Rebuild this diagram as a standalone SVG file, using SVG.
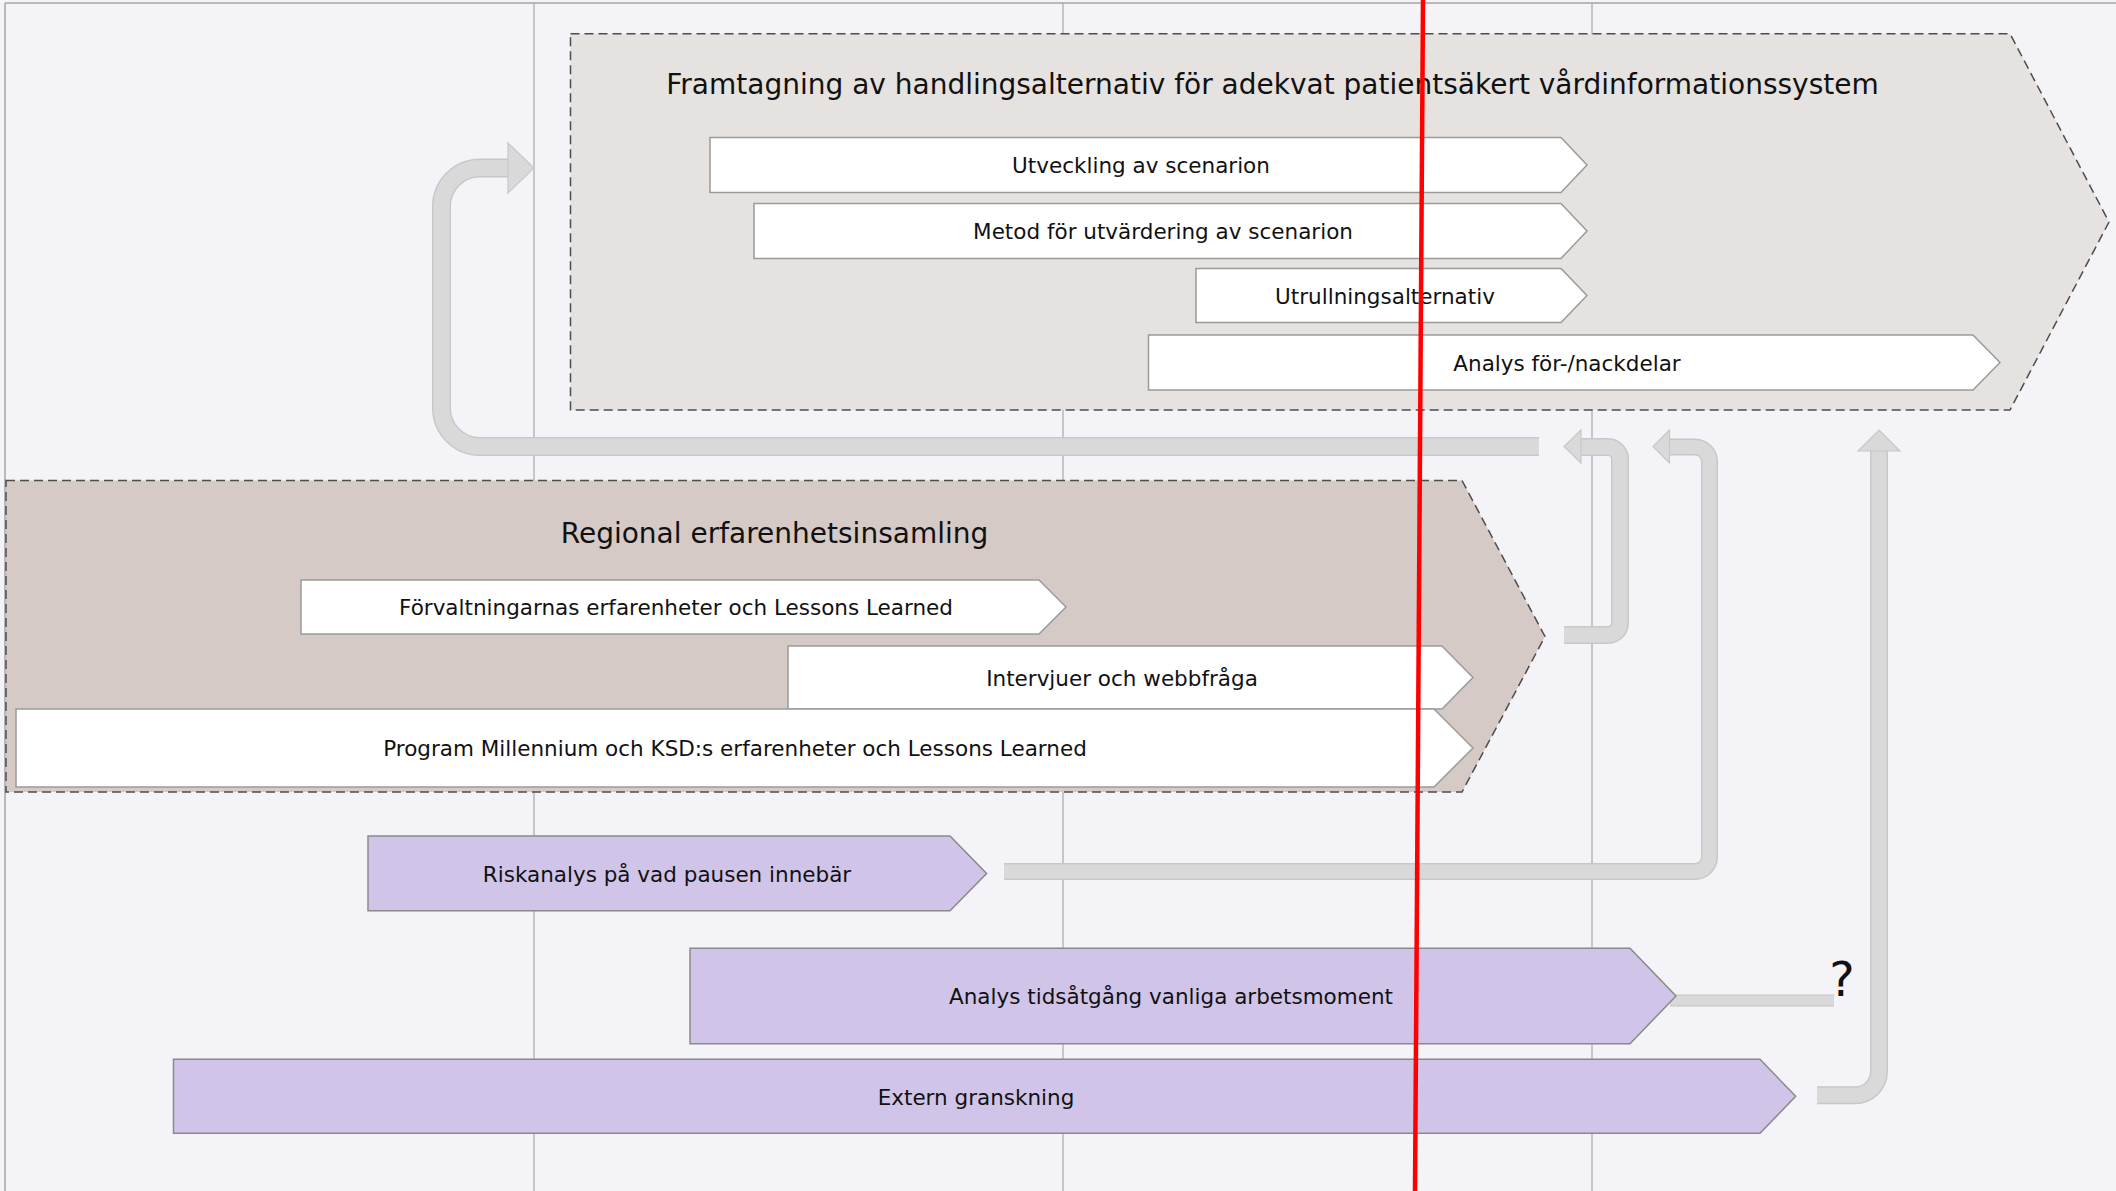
<svg xmlns="http://www.w3.org/2000/svg" width="2116" height="1191" viewBox="0 0 2116 1191">
<style>
.grid{stroke:#a8a8ac;stroke-width:1.2;fill:none}
.frame{fill:none;stroke:#b8b8bc;stroke-width:2}
.phase{stroke:#4d4d4d;stroke-width:1.5;stroke-dasharray:9 5}
.task{fill:#ffffff;stroke:#9a9a9a;stroke-width:1.5}
.ptask{fill:#d0c5e8;stroke:#8a8a8a;stroke-width:1.5}
.lbl{font-family:"DejaVu Sans",Verdana,sans-serif;font-size:21.5px;fill:#111;text-anchor:middle}
.ttl{font-family:"DejaVu Sans",Verdana,sans-serif;font-size:28px;fill:#111;text-anchor:middle}
.edge{fill:none;stroke:#c8c8c8;stroke-linejoin:round}
.core{fill:none;stroke:#d9d9d9;stroke-linejoin:round}
.head{fill:#d9d9d9;stroke:#c8c8c8;stroke-width:1.2}
</style>
<rect x="0" y="0" width="2116" height="1191" fill="#f3f3f8"/>
<g id="grid">
<line class="frame" x1="5" y1="3" x2="2116" y2="3"/>
<line class="frame" x1="5" y1="3" x2="5" y2="1191"/>
<line class="grid" x1="534" y1="3" x2="534" y2="1191"/>
<line class="grid" x1="1063" y1="3" x2="1063" y2="1191"/>
<line class="grid" x1="1592" y1="3" x2="1592" y2="1191"/>
</g>
<g id="connectors">
<g id="loop-back">
<path class="edge" stroke-width="19" d="M1539,446.5 H480 A38.5,38.5 0 0 1 441.5,408 V206.5 A38.5,38.5 0 0 1 480,168 H509"/>
<path class="core" stroke-width="16" d="M1539,446.5 H480 A38.5,38.5 0 0 1 441.5,408 V206.5 A38.5,38.5 0 0 1 480,168 H509"/>
<polygon class="head" points="508,143 534,168 508,193"/>
</g>
<g id="regional-to-top">
<path class="edge" stroke-width="18" d="M1564,635 H1608 A12,12 0 0 0 1620,623 V459 A12,12 0 0 0 1608,447 H1580"/>
<path class="core" stroke-width="15" d="M1564,635 H1608 A12,12 0 0 0 1620,623 V459 A12,12 0 0 0 1608,447 H1580"/>
<polygon class="head" points="1581,430 1564,446.5 1581,463"/>
</g>
<g id="risk-to-top">
<path class="edge" stroke-width="17" d="M1004,871.5 H1695 A14.5,14.5 0 0 0 1709.5,857 V461.5 A14.5,14.5 0 0 0 1695,447 H1668"/>
<path class="core" stroke-width="14" d="M1004,871.5 H1695 A14.5,14.5 0 0 0 1709.5,857 V461.5 A14.5,14.5 0 0 0 1695,447 H1668"/>
<polygon class="head" points="1669.5,430 1653,446.5 1669.5,463"/>
</g>
<g id="tid-to-question">
<path class="edge" stroke-width="12" d="M1670,1000.5 H1834"/>
<path class="core" stroke-width="9.5" d="M1670,1000.5 H1834"/>
</g>
<g id="extern-to-top">
<path class="edge" stroke-width="18" d="M1817,1095.3 H1855 A24,24 0 0 0 1879,1071.3 V450"/>
<path class="core" stroke-width="15" d="M1817,1095.3 H1855 A24,24 0 0 0 1879,1071.3 V450"/>
<polygon class="head" points="1858,451 1879,430 1900,451"/>
</g>
</g>
<g id="phase-top">
<polygon class="phase" fill="#e6e2df" points="570.5,33.7 2010,33.7 2109,222 2010,410 570.5,410"/>
<text class="ttl" x="1272.5" y="94">Framtagning av handlingsalternativ för adekvat patientsäkert vårdinformationssystem</text>
</g>
<g id="task-utveckling">
<polygon class="task" points="710,137.5 1561,137.5 1587,165 1561,192.5 710,192.5"/>
<text class="lbl" x="1141" y="173">Utveckling av scenarion</text>
</g>
<g id="task-metod">
<polygon class="task" points="754,203.5 1561,203.5 1587,231 1561,258.5 754,258.5"/>
<text class="lbl" x="1163" y="239">Metod för utvärdering av scenarion</text>
</g>
<g id="task-utrullning">
<polygon class="task" points="1196,268.5 1561,268.5 1587,295.5 1561,322.5 1196,322.5"/>
<text class="lbl" x="1385" y="303.5">Utrullningsalternativ</text>
</g>
<g id="task-analys-for-nack">
<polygon class="task" points="1148.5,335 1973,335 2000,362.5 1973,390 1148.5,390"/>
<text class="lbl" x="1567" y="370.5">Analys för-/nackdelar</text>
</g>
<g id="phase-regional">
<polygon class="phase" fill="#d5cac6" points="6,480.5 1462,480.5 1545,636.5 1462,792 6,792"/>
<text class="ttl" x="774.5" y="543">Regional erfarenhetsinsamling</text>
</g>
<g id="task-forvaltningarnas">
<polygon class="task" points="301,580 1039,580 1066,607 1039,634 301,634"/>
<text class="lbl" x="676" y="615">Förvaltningarnas erfarenheter och Lessons Learned</text>
</g>
<g id="task-intervjuer">
<polygon class="task" points="788,646 1442,646 1473,677.5 1442,709 788,709"/>
<text class="lbl" x="1122" y="685.5">Intervjuer och webbfråga</text>
</g>
<g id="task-program">
<polygon class="task" points="16,709 1434,709 1473,748 1434,787 16,787"/>
<text class="lbl" x="735" y="756">Program Millennium och KSD:s erfarenheter och Lessons Learned</text>
</g>
<g id="task-riskanalys">
<polygon class="ptask" points="368,836 950,836 986.6,873.5 950,910.7 368,910.7"/>
<text class="lbl" x="667" y="881.5">Riskanalys på vad pausen innebär</text>
</g>
<g id="task-tidsatgang">
<polygon class="ptask" points="690,948.3 1630,948.3 1676,996 1630,1043.7 690,1043.7"/>
<text class="lbl" x="1171" y="1004">Analys tidsåtgång vanliga arbetsmoment</text>
</g>
<g id="task-extern">
<polygon class="ptask" points="173.5,1059.3 1760,1059.3 1795.7,1096.3 1760,1133.3 173.5,1133.3"/>
<text class="lbl" x="976" y="1104.5">Extern granskning</text>
</g>
<g id="question">
<text x="1842" y="996" font-family="'DejaVu Sans',Verdana,sans-serif" font-size="48" fill="#111" text-anchor="middle">?</text>
</g>
<g id="today-line">
<line x1="1423" y1="0" x2="1415" y2="1191" stroke="#ff0000" stroke-width="4.5"/>
</g>
</svg>
